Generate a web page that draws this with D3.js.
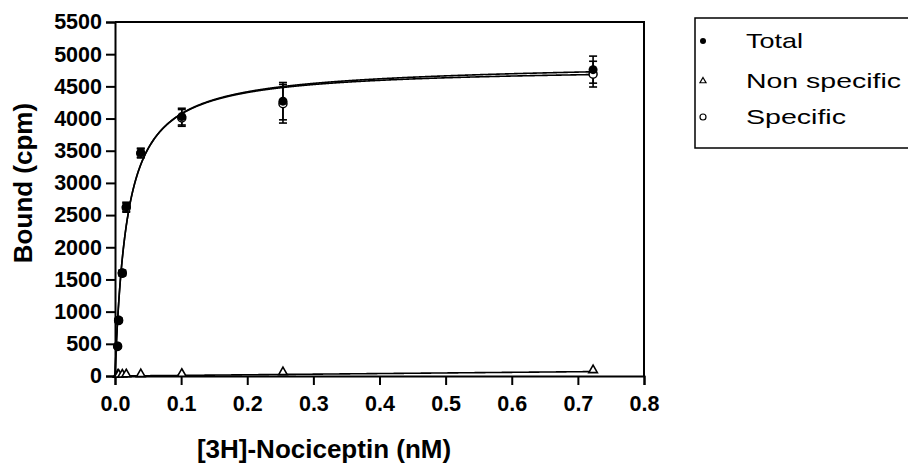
<!DOCTYPE html>
<html>
<head>
<meta charset="utf-8">
<script src="https://cdn.jsdelivr.net/npm/d3@7"></script>
<style>
  body { margin: 0; background: #fff; }
  text { font-family: "Liberation Sans", Arial, sans-serif; fill: #000; }
</style>
</head>
<body>
<svg id="chart" width="908" height="464"></svg>
<script>
// concentrations of [3H]-Nociceptin (nM)
const conc = [0.004, 0.0055, 0.011, 0.017, 0.039, 0.101, 0.254, 0.723];

// bound counts (cpm) and SEM
const totalVals = [466, 870, 1605, 2630, 3470, 4030, 4270, 4760];
const totalErr = [20, 30, 40, 70, 70, 130, 290, 210];
const nonSpecVals = [4, 6, 8, 12, 14, 20, 45, 75];
const specVals = [460, 862, 1595, 2615, 3458, 4010, 4230, 4690];
const specErr = [20, 30, 40, 70, 70, 130, 300, 200];

// one-site fit parameters
const bmax = 4800;
const kd = 0.018;
const nsSlope = 60;      // non specific part inside the total fit
const nsLineSlope = 95;  // separate linear fit of the non specific points

const xTicks = [0, 0.1, 0.2, 0.3, 0.4, 0.5, 0.6, 0.7, 0.8];
const yTicks = d3.range(0, 5501, 500);
const legendLabels = ["Total", "Non specific", "Specific"];

const svg = d3.select("#chart");
const plotL = 115, plotR = 644, plotT = 22, plotB = 376;

const x = d3.scaleLinear().domain([0, 0.8]).range([plotL, plotR]);
const y = d3.scaleLinear().domain([0, 5500]).range([plotB, plotT]);

// axes
const xAxis = svg.append("g")
    .attr("transform", `translate(0,${plotB})`)
    .call(d3.axisBottom(x).tickValues(xTicks).tickFormat(d3.format(".1f")).tickSize(9).tickPadding(11));
const yAxis = svg.append("g")
    .attr("transform", `translate(${plotL},0)`)
    .call(d3.axisLeft(y).tickValues(yTicks).tickFormat(d3.format("d")).tickSize(9).tickPadding(4));

[xAxis, yAxis].forEach((g) => {
    g.select(".domain").attr("stroke", "#000").attr("stroke-width", 2);
    g.selectAll(".tick line").attr("stroke", "#000").attr("stroke-width", 2);
    g.selectAll(".tick text")
        .style("font-size", "21.5px")
        .style("font-weight", "bold")
        .attr("fill", "#000");
});

// frame top + right
svg.append("path")
    .attr("d", `M${plotL},${plotT}H${plotR}V${plotB}`)
    .attr("fill", "none")
    .attr("stroke", "#000")
    .attr("stroke-width", 2);

// fitted curves
const curveX = d3.range(0, 0.7231, 0.0005);
const line = d3.line().x((d) => x(d[0])).y((d) => y(d[1]));
const specFit = (c) => (bmax * c) / (kd + c);

const curves = [
    curveX.map((c) => [c, specFit(c) + nsSlope * c]),
    curveX.map((c) => [c, specFit(c)]),
    curveX.map((c) => [c, nsLineSlope * c]),
];
svg.append("g").selectAll("path")
    .data(curves)
    .join("path")
    .attr("d", line)
    .attr("fill", "none")
    .attr("stroke", "#000")
    .attr("stroke-width", 1.6);

// error bars
function errorBars(vals, errs) {
    const g = svg.append("g").attr("stroke", "#000").attr("stroke-width", 1.6);
    vals.forEach((v, i) => {
        const cx = x(conc[i]);
        const e = errs[i];
        g.append("line").attr("x1", cx).attr("x2", cx).attr("y1", y(v - e)).attr("y2", y(v + e));
        [v - e, v + e].forEach((w) => {
            g.append("line").attr("x1", cx - 4).attr("x2", cx + 4).attr("y1", y(w)).attr("y2", y(w));
        });
    });
}
errorBars(totalVals, totalErr);
errorBars(specVals, specErr);

// markers
const tri = d3.symbol().type(d3.symbolTriangle).size(32);

svg.append("g").selectAll("path")
    .data(nonSpecVals)
    .join("path")
    .attr("d", tri)
    .attr("transform", (d, i) => `translate(${x(conc[i])},${y(d) - 1})`)
    .attr("fill", "#fff")
    .attr("stroke", "#000")
    .attr("stroke-width", 1.6);

svg.append("g").selectAll("circle")
    .data(specVals)
    .join("circle")
    .attr("cx", (d, i) => x(conc[i]))
    .attr("cy", (d) => y(d))
    .attr("r", 4)
    .attr("fill", "#fff")
    .attr("stroke", "#000")
    .attr("stroke-width", 1.5);

svg.append("g").selectAll("circle")
    .data(totalVals)
    .join("circle")
    .attr("cx", (d, i) => x(conc[i]))
    .attr("cy", (d) => y(d))
    .attr("r", 4.5)
    .attr("fill", "#000");

// axis titles
svg.append("text")
    .attr("x", 324)
    .attr("y", 458)
    .attr("text-anchor", "middle")
    .style("font-size", "26px")
    .style("font-weight", "bold")
    .text("[3H]-Nociceptin (nM)");

svg.append("text")
    .attr("transform", "translate(32,183) rotate(-90)")
    .attr("text-anchor", "middle")
    .style("font-size", "26px")
    .style("font-weight", "bold")
    .text("Bound (cpm)");

// legend
const legend = svg.append("g");
legend.append("rect")
    .attr("x", 695).attr("y", 18)
    .attr("width", 240).attr("height", 130)
    .attr("fill", "none")
    .attr("stroke", "#000")
    .attr("stroke-width", 1.5);

const rowY = [41, 81, 117];
const textW = [57, 155, 100];
legendLabels.forEach((lab, i) => {
    const cy = rowY[i];
    if (i === 0) {
        legend.append("circle").attr("cx", 703).attr("cy", cy).attr("r", 3).attr("fill", "#000");
    } else if (i === 1) {
        legend.append("path")
            .attr("d", d3.symbol().type(d3.symbolTriangle).size(16))
            .attr("transform", `translate(703,${cy})`)
            .attr("fill", "#fff").attr("stroke", "#000").attr("stroke-width", 1.2);
    } else {
        legend.append("circle").attr("cx", 703).attr("cy", cy).attr("r", 3)
            .attr("fill", "#fff").attr("stroke", "#000").attr("stroke-width", 1.2);
    }
    legend.append("text")
        .attr("x", 746)
        .attr("y", cy + 7)
        .attr("textLength", textW[i])
        .attr("lengthAdjust", "spacingAndGlyphs")
        .style("font-size", "21px")
        .text(lab);
});
</script>
</body>
</html>
